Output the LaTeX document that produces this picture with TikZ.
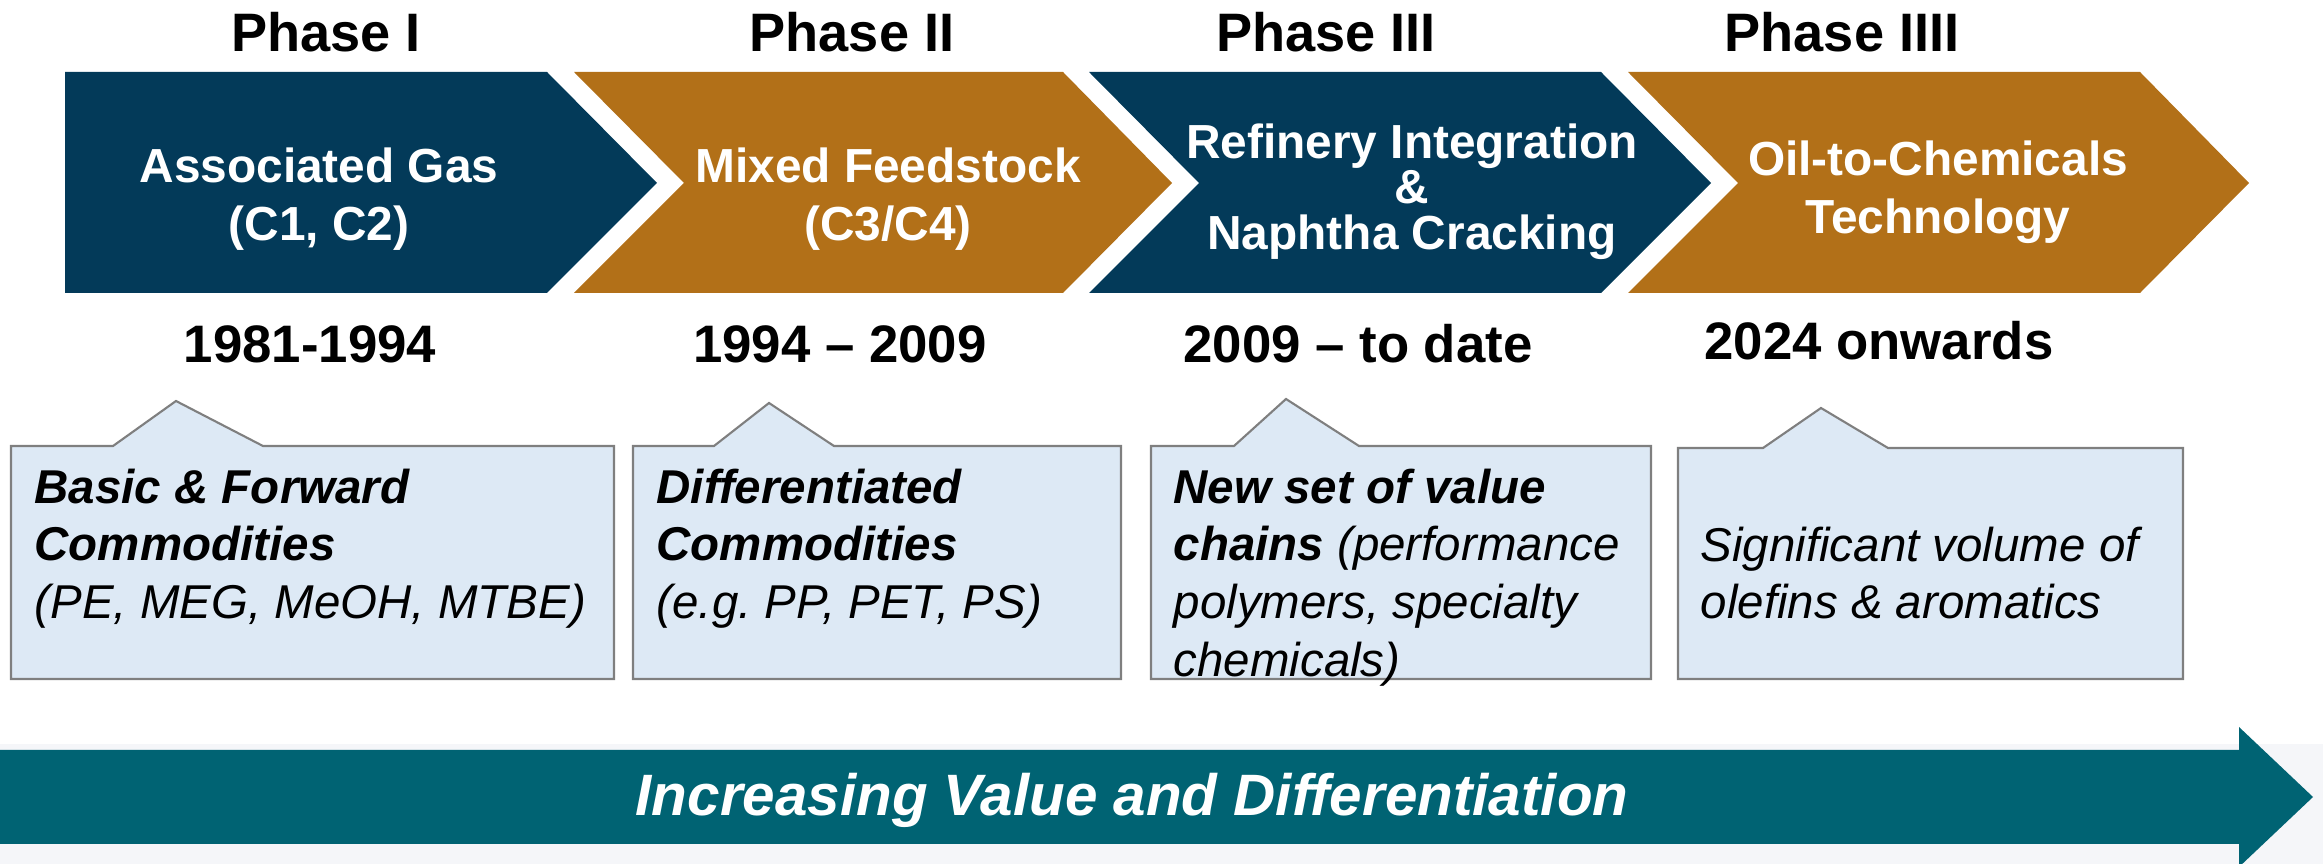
\documentclass[tikz,border=0pt]{standalone}
\usepackage{fontspec}
\setmainfont{Liberation Sans}
\usepackage{color}
\definecolor{navy}{HTML}{033A59}
\definecolor{gold}{HTML}{B27018}
\definecolor{trendteal}{HTML}{006373}
\definecolor{notefill}{HTML}{DDE9F5}
\definecolor{noteline}{HTML}{7F7F7F}
\definecolor{band}{HTML}{F5F6F9}
\setlength{\lineskiplimit}{-10pt}
\frenchspacing

\begin{document}
\begin{tikzpicture}[%
    x=0.01cm, y=-0.01cm,
    phase/.style={anchor=base, font=\fontsize{15.4}{18}\selectfont\bfseries},
    period/.style={anchor=base, font=\fontsize{15}{18}\selectfont\bfseries},
    stage/.style={anchor=north, align=center, inner sep=0pt, text=white,
        font=\fontsize{13.6}{16.5}\selectfont\bfseries},
    note/.style={anchor=north west, align=left, inner sep=0pt,
        font=\fontsize{13.5}{16.4}\selectfont\itshape},
    callout/.style={fill=notefill, draw=noteline, line width=0.6pt},
    ]
    \useasboundingbox (0,0) rectangle (2323,864);
    \clip (0,0) rectangle (2323,864);

    % phase titles
    \node[phase] (phase1) at (326,52) {Phase I};
    \node[phase] (phase2) at (852,52) {Phase II};
    \node[phase] (phase3) at (1326,52) {Phase III};
    \node[phase] (phase4) at (1842,52) {Phase IIII};

    % chevrons
    \fill[navy] (65,72) -- (547,72) -- (657,183) -- (547,293) -- (65,293) -- cycle;
    \fill[gold] (574,72) -- (1063,72) -- (1172,183) -- (1063,293) -- (574,293) -- (684,183) -- cycle;
    \fill[navy] (1089,72) -- (1601,72) -- (1711,183) -- (1601,293) -- (1089,293) -- (1199,183) -- cycle;
    \fill[gold] (1628,72) -- (2140,72) -- (2249,183) -- (2140,293) -- (1628,293) -- (1738,183) -- cycle;
    \node[stage] (stage1) at (319,147) {Associated Gas\\(C1, C2)};
    \node[stage] (stage2) at (888,147) {Mixed Feedstock\\(C3/C4)};
    \node[stage, font=\fontsize{13.6}{12.9}\selectfont\bfseries] (stage3) at (1412,123)
        {Refinery Integration\\\&\\Naphtha Cracking};
    \node[stage] (stage4) at (1938,140) {Oil-to-Chemicals\\Technology};

    % periods
    \node[period] (period1) at (310,363) {1981-1994};
    \node[period] (period2) at (840,363) {1994 -- 2009};
    \node[period] (period3) at (1358,363) {2009 -- to date};
    \node[period] (period4) at (1879,360) {2024 onwards};

    % callouts
    \draw[callout] (11,446) -- (113,446) -- (176,401) -- (263,446) -- (614,446) -- (614,679) -- (11,679) -- cycle;
    \draw[callout] (633,446) -- (714,446) -- (769,403) -- (834,446) -- (1121,446) -- (1121,679) -- (633,679) -- cycle;
    \draw[callout] (1151,446) -- (1234,446) -- (1286,399) -- (1359,446) -- (1651,446) -- (1651,679) -- (1151,679) -- cycle;
    \draw[callout] (1678,448) -- (1763,448) -- (1821,408) -- (1888,448) -- (2183,448) -- (2183,679) -- (1678,679) -- cycle;
    \node[note] (note1) at (34,468) {\bfseries Basic \& Forward\\\bfseries Commodities\\(PE, MEG, MeOH, MTBE)};
    \node[note] (note2) at (656,468) {\bfseries Differentiated\\\bfseries Commodities\\(e.g. PP, PET, PS)};
    \node[note] (note3) at (1173,468) {\bfseries New set of value\\\textbf{chains} (performance\\polymers, specialty\\chemicals)};
    \node[note] (note4) at (1700,526) {Significant volume of\\olefins \& aromatics};

    % value arrow
    \fill[band] (0,744) rectangle (2323,864);
    \fill[trendteal] (0,750) -- (2239,750) -- (2239,727) -- (2313,797) -- (2239,867) -- (2239,844) -- (0,844) -- cycle;
    \node[anchor=base, text=white, font=\fontsize{16.6}{20}\selectfont\bfseries\itshape] (trend) at (1132,816)
        {Increasing Value and Differentiation};
\end{tikzpicture}
\end{document}
